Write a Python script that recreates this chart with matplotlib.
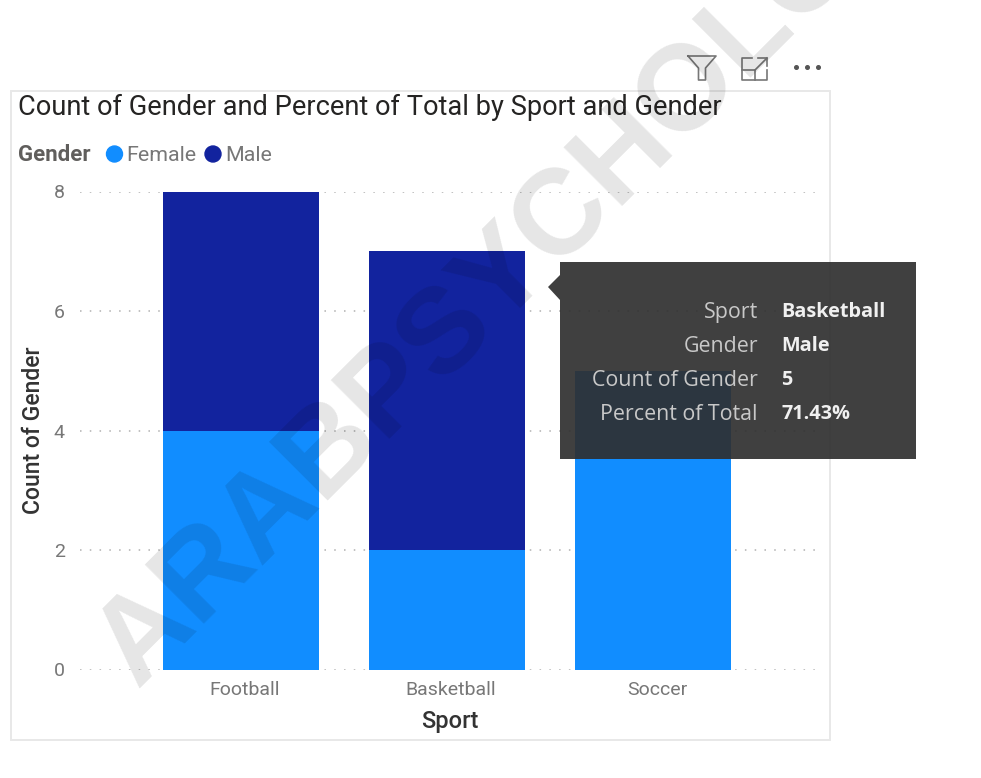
import matplotlib
matplotlib.use('Agg')
import matplotlib.pyplot as plt
from matplotlib.patches import Rectangle, Polygon, Circle
import numpy as np

sports = ['Football', 'Basketball', 'Soccer']
female = [4, 2, 5]
male = [4, 5, 0]
yticks = [0, 2, 4, 6, 8]

title = 'Count of Gender and Percent of Total by Sport and Gender'
watermark = 'ARABPSYCHOLOGY'
tip_labels = ['Sport', 'Gender', 'Count of Gender', 'Percent of Total']
tip_values = ['Basketball', 'Male', '5', '71.43%']

W, H = 981, 778
FEMALE_COL = '#118DFF'
MALE_COL = '#12239E'
plt.rcParams['font.family'] = ['Roboto', 'DejaVu Sans']

fig = plt.figure(figsize=(W / 100, H / 100), dpi=100)

# plot area, placed by pixels
left, right, top, bottom = 80, 820, 191.5, 669.5
ax = fig.add_axes([left / W, 1 - bottom / H, (right - left) / W, (bottom - top) / H], zorder=1)
index = np.arange(len(sports))
ax.bar(index, female, 0.76, color=FEMALE_COL, label='Female')
ax.bar(index, male, 0.76, bottom=female, color=MALE_COL, label='Male')
ax.set_xlim((left - 241) / 206, (right - 241) / 206)
ax.set_ylim(0, 8)
ax.set_yticks(yticks)
ax.set_xticks(index + .02, sports)
ax.set_axisbelow(True)
ax.grid(True, axis='y', color='#b0b0b0', linewidth=1.1, linestyle=(0, (1, 5.4)))
ax.tick_params(length=0)
ax.tick_params(axis='x', labelsize=14, labelcolor='#777777', pad=8)
ax.tick_params(axis='y', labelsize=14, labelcolor='#777777', pad=11)
for s in ax.spines.values():
    s.set_visible(False)
ax.set_xlabel('Sport', fontsize=17, color='#333333', fontweight='medium', labelpad=8)
ax.set_ylabel('Count of Gender', fontsize=16.5, color='#333333', fontweight='medium', labelpad=6)
ax.patch.set_alpha(0)

# overlay in pixel coords for frame, legend, icons, watermark, tooltip
ov = fig.add_axes([0, 0, 1, 1], zorder=2)
ov.set_xlim(0, W)
ov.set_ylim(H, 0)
ov.axis('off')
ov.patch.set_alpha(0)

ov.add_patch(Rectangle((11, 91), 819, 649, fill=False, ec='#e8e8e8', lw=1.4))
ov.text(18, 107, title, fontsize=19.6, color='#252423', va='center', ha='left')

# legend
ov.text(18, 155, 'Gender', fontsize=16, color='#605E5C', fontweight='bold', va='center')
ov.add_patch(Circle((114.5, 154), 8, color=FEMALE_COL))
ov.text(126, 155, 'Female', fontsize=15.4, color='#777777', va='center')
ov.add_patch(Circle((213, 154), 8, color=MALE_COL))
ov.text(225, 155, 'Male', fontsize=15.4, color='#777777', va='center')

# header icons
icon = '#777777'
ov.plot([688, 716, 705.5, 705.5, 698.5, 698.5, 688], [56, 56, 68, 80, 80, 68, 56], color=icon, lw=1.2)
ov.plot([752, 742, 742, 767, 767], [58, 58, 80, 80, 70], color=icon, lw=1.2)
ov.plot([742, 755, 755], [70, 70, 80], color=icon, lw=1.2)
ov.plot([758, 767, 767], [58, 58, 66], color=icon, lw=1.2)
ov.plot([755, 767], [70, 58], color=icon, lw=1.2)
ov.plot([796, 807, 818], [67, 67, 67], ls='none', marker='o', ms=2.6, color='#555555')

# watermark sits over the bars, under the tooltip
ov.text(137, 688, watermark, fontsize=87, family='Liberation Sans', fontweight='bold', color='black', alpha=0.1,
        rotation=45, rotation_mode='anchor', ha='left', va='baseline', zorder=3, clip_on=True)

# tooltip
ov.add_patch(Rectangle((560, 262), 356, 197, fc='#2f2f2f', alpha=0.92, ec='none', zorder=4))
ov.add_patch(Polygon([[560, 275], [548, 287], [560, 300]], fc='#3f3f3f', ec='none', zorder=4))
for i in range(len(tip_labels)):
    y = 312 + i * 34
    ov.text(758, y, tip_labels[i], fontsize=15.4, family='Open Sans', color='#c8c8c8', ha='right', va='center', zorder=5)
    ov.text(781, y, tip_values[i], fontsize=14.3, family='Open Sans', fontweight='bold', color='#f0f0f0', ha='left', va='center', zorder=5)

fig.savefig('out.png', dpi=100)
